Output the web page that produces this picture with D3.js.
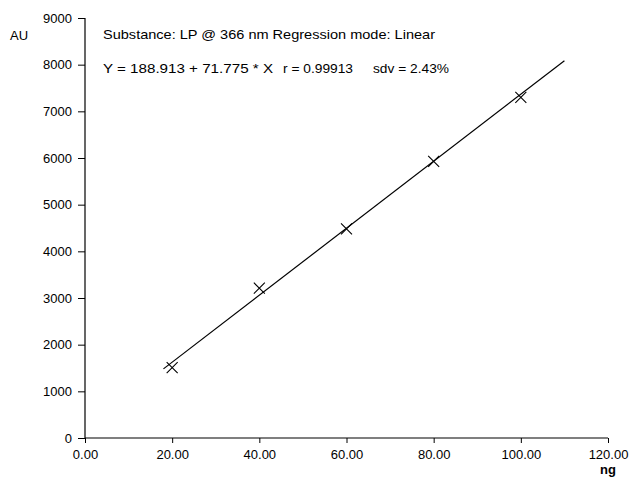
<!DOCTYPE html>
<html><head><meta charset="utf-8">
<script src="https://cdn.jsdelivr.net/npm/d3@7"></script>
<style>body{margin:0;background:#fff;} svg{display:block;} text{font-family:"Liberation Sans",Arial,sans-serif;fill:#000;}</style>
</head><body><svg id="c" width="630" height="484"></svg>
<script>
const amounts = [20, 40, 60, 80, 100];
const areas = [1510, 3210, 4480, 5930, 7300];
const xTicks = [0, 20, 40, 60, 80, 100, 120];
const yTicks = [0, 1000, 2000, 3000, 4000, 5000, 6000, 7000, 8000, 9000];
const intercept = 188.913, slope = 71.775;
const lineRange = [18, 110];
const title1 = "Substance: LP @ 366 nm Regression mode: Linear";
const eqParts = ["Y = 188.913 + 71.775 * X", "r = 0.99913", "sdv = 2.43%"];

const svg = d3.select("#c");
const x = d3.scaleLinear().domain([0, 120]).range([85, 608]);
const y = d3.scaleLinear().domain([0, 9000]).range([438, 18]);

const xAxis = svg.append("g").attr("transform", `translate(0,${y(0)})`)
  .call(d3.axisBottom(x).tickValues(xTicks).tickFormat(d3.format(".2f")).tickSize(5).tickPadding(7));
const yAxis = svg.append("g").attr("transform", `translate(${x(0)},0)`)
  .call(d3.axisLeft(y).tickValues(yTicks).tickFormat(d3.format("d")).tickSize(7).tickPadding(6));
[xAxis, yAxis].forEach(g => {
  g.selectAll("path").attr("stroke", "#000").attr("stroke-width", 1.2);
  g.selectAll("line").attr("stroke", "#000");
  g.selectAll("text").style("font-size", "13px").style("font-family", '"Liberation Sans",Arial,sans-serif');
});
xAxis.select(".domain").attr("d", `M${x(0)},0H${x(120)}`);
yAxis.select(".domain").attr("d", `M0,${y(9000)}V${y(0)}`);

svg.append("line")
  .attr("x1", x(lineRange[0])).attr("y1", y(intercept + slope * lineRange[0]))
  .attr("x2", x(lineRange[1])).attr("y2", y(intercept + slope * lineRange[1]))
  .attr("stroke", "#000").attr("stroke-width", 1.2);

const s = 5.5;
svg.append("g").selectAll("path").data(amounts).join("path")
  .attr("d", (d, i) => { const cx = x(d), cy = y(areas[i]);
    return `M${cx-s},${cy-s}L${cx+s},${cy+s}M${cx-s},${cy+s}L${cx+s},${cy-s}`; })
  .attr("stroke", "#000").attr("stroke-width", 1.1).attr("fill", "none");

svg.append("text").attr("x", 10).attr("y", 40).style("font-size", "13px").text("AU");
svg.append("text").attr("x", 600).attr("y", 474).style("font-size", "13px").style("font-weight", "bold").text("ng");
svg.append("text").attr("x", 103).attr("y", 39).style("font-size", "13px")
  .attr("textLength", 332).attr("lengthAdjust", "spacingAndGlyphs").text(title1);
const eqX = [103, 283, 373], eqW = [170, 70, 76];
svg.append("g").selectAll("text").data(eqParts).join("text")
  .attr("x", (d, i) => eqX[i]).attr("y", 73).style("font-size", "13px")
  .attr("textLength", (d, i) => eqW[i]).attr("lengthAdjust", "spacingAndGlyphs").text(d => d);
</script></body></html>
